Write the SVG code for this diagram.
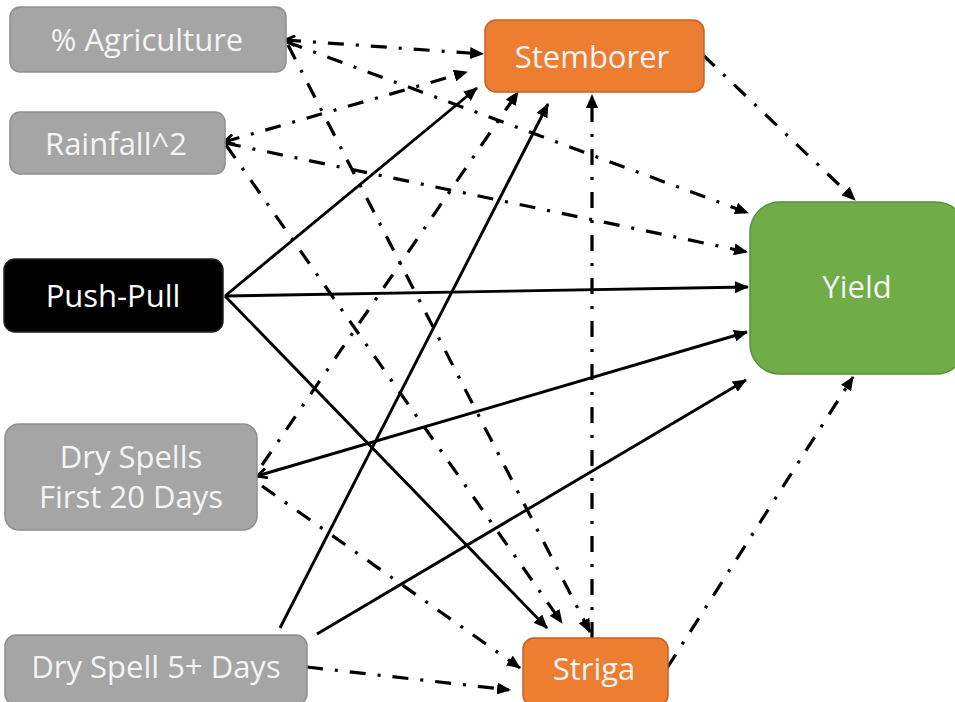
<svg xmlns="http://www.w3.org/2000/svg" width="955" height="702" viewBox="0 0 955 702">
<style>
.lbl{font-family:"Open Sans","Noto Sans","Liberation Sans",sans-serif;font-size:31px;fill:#F4F4F4;text-anchor:middle}
.gray{fill:#A5A5A5;stroke:#8E8E8E;stroke-width:1.5}
.orange{fill:#ED7D31;stroke:#C0642A;stroke-width:1.5}
.green{fill:#70AD47;stroke:#5A8F38;stroke-width:1.5}
.black{fill:#000;stroke:#222;stroke-width:1.5}
.solid{fill:none;stroke:#000;stroke-width:2.9}
.dd{fill:none;stroke:#000;stroke-width:3.2;stroke-dasharray:16 12 3 12}
</style>
<defs>
<marker id="arr" viewBox="0 0 14 12" refX="13" refY="6" markerWidth="14" markerHeight="12" markerUnits="userSpaceOnUse" orient="auto">
<path d="M0,0 L14,6 L0,12 z" fill="#000"/>
</marker>
<marker id="open" viewBox="0 0 12 12" refX="11" refY="6" markerWidth="12" markerHeight="12" markerUnits="userSpaceOnUse" orient="auto-start-reverse">
<path d="M1,1 L11,6 L1,11" fill="none" stroke="#000" stroke-width="2.8"/>
</marker>
</defs>

<g id="connectors">
<path class="dd" d="M285,40 L483,54" marker-start="url(#open)" marker-end="url(#arr)"/>
<path class="dd" d="M287,42 L748,213" marker-end="url(#arr)"/>
<path class="dd" d="M288,45 L590,632" marker-end="url(#arr)"/>
<path class="dd" d="M224,142 L467,72" marker-start="url(#open)" marker-end="url(#arr)"/>
<path class="dd" d="M225,143 L747,252" marker-end="url(#arr)"/>
<path class="dd" d="M226,145 L562,623" marker-end="url(#arr)"/>
<path class="dd" d="M262,465 L518,92" marker-end="url(#arr)"/>
<path class="dd" d="M262,486 L520,668" marker-end="url(#arr)"/>
<path class="dd" d="M307,667 L510,690" marker-end="url(#arr)"/>
<path class="dd" d="M592,638 L592,95" marker-end="url(#arr)"/>
<path class="dd" d="M703,55 L855,200" marker-end="url(#arr)"/>
<path class="dd" d="M667,668 L853,377" marker-end="url(#arr)"/>
<path class="solid" d="M225,296 L477,88" marker-end="url(#arr)"/>
<path class="solid" d="M225,296 L748,287" marker-end="url(#arr)"/>
<path class="solid" d="M225,296 L547,628" marker-end="url(#arr)"/>
<path class="solid" d="M280,628 L548,104" marker-end="url(#arr)"/>
<path class="solid" d="M317,634 L746,380" marker-end="url(#arr)"/>
<path class="solid" d="M257,476 L747,332" marker-start="url(#open)" marker-end="url(#arr)"/>
</g>

<g id="agriculture">
<rect class="gray" x="10" y="7" width="276" height="65" rx="10"/>
<text class="lbl" x="147" y="51">% Agriculture</text>
</g>
<g id="rainfall">
<rect class="gray" x="10" y="112" width="215" height="62" rx="10"/>
<text class="lbl" x="116" y="155">Rainfall^2</text>
</g>
<g id="pushpull">
<rect class="black" x="4" y="259" width="219" height="73" rx="11"/>
<text class="lbl" x="113" y="307" style="fill:#fff">Push-Pull</text>
</g>
<g id="dryspells20">
<rect class="gray" x="5" y="424" width="252" height="106" rx="14"/>
<text class="lbl" x="131" y="468">Dry Spells</text>
<text class="lbl" x="131" y="508">First 20 Days</text>
</g>
<g id="dryspell5">
<rect class="gray" x="5" y="635" width="302" height="70" rx="11"/>
<text class="lbl" x="156" y="678">Dry Spell 5+ Days</text>
</g>
<g id="stemborer">
<rect class="orange" x="485" y="20" width="219" height="72" rx="11"/>
<text class="lbl" x="592" y="68">Stemborer</text>
</g>
<g id="striga">
<rect class="orange" x="523" y="638" width="145" height="68" rx="11"/>
<text class="lbl" x="594" y="680">Striga</text>
</g>
<g id="yield">
<rect class="green" x="750" y="202" width="216" height="172" rx="30"/>
<text class="lbl" x="857" y="298">Yield</text>
</g>
</svg>
